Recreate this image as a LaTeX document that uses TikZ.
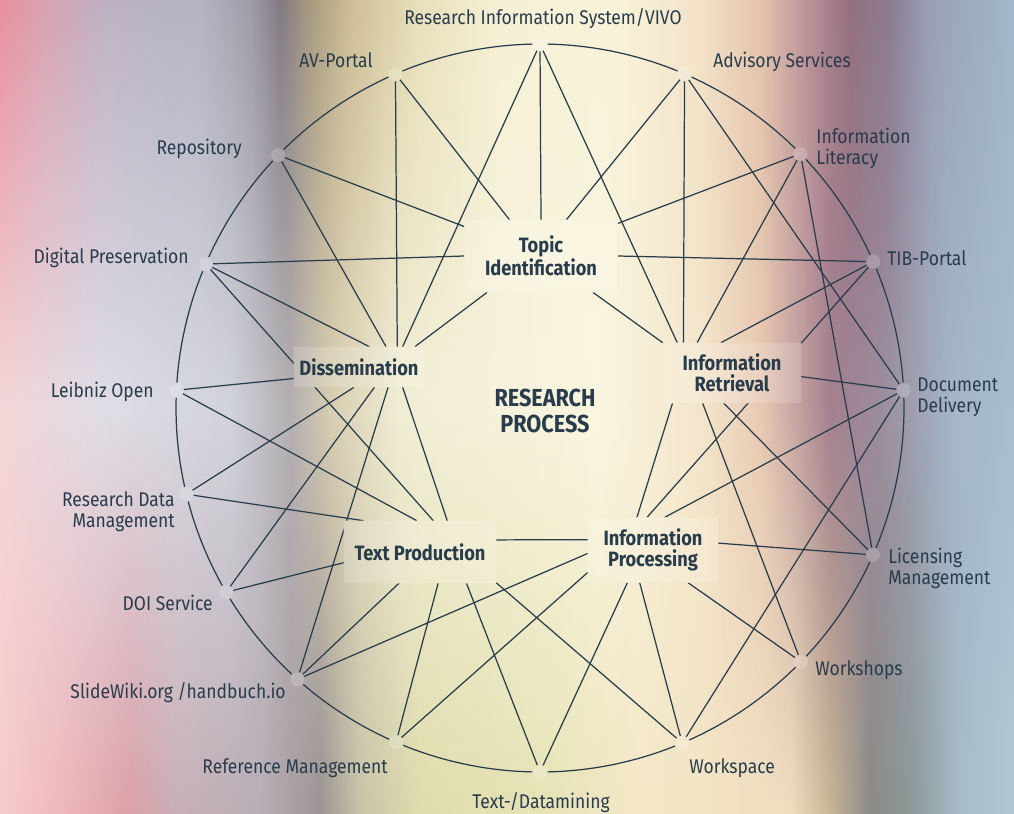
\documentclass[tikz,border=0pt]{standalone}
\usepackage{fontspec}
\setmainfont{Fira Sans}[FakeStretch=0.88]
\usetikzlibrary{fadings}

\definecolor{ink}{RGB}{40,60,76}
% background colours, top row
\definecolor{t0}{HTML}{E8909F}\definecolor{t1}{HTML}{D8A2B2}\definecolor{t2}{HTML}{BDB2C4}
\definecolor{t3}{HTML}{B4B4C2}\definecolor{t4}{HTML}{A09CA8}\definecolor{t5}{HTML}{827A84}
\definecolor{t6}{HTML}{A89A80}\definecolor{t7}{HTML}{CDBE96}\definecolor{t8}{HTML}{E8E0BA}
\definecolor{t9}{HTML}{F6F1D6}\definecolor{t10}{HTML}{F8F2D8}\definecolor{t11}{HTML}{F2E2C8}
\definecolor{t12}{HTML}{E4C4AC}\definecolor{t13}{HTML}{B89098}\definecolor{t14}{HTML}{94707E}
\definecolor{t15}{HTML}{8C7C90}\definecolor{t16}{HTML}{9AA0B4}\definecolor{t17}{HTML}{A2B8CC}
% middle row
\definecolor{m0}{HTML}{F4D6D8}\definecolor{m1}{HTML}{E8DAE0}\definecolor{m2}{HTML}{E0DEE6}
\definecolor{m3}{HTML}{D2D4DC}\definecolor{m4}{HTML}{B4B0B2}\definecolor{m5}{HTML}{D8CEB2}
\definecolor{m6}{HTML}{F2EED6}\definecolor{m7}{HTML}{FAF6E0}\definecolor{m8}{HTML}{F4E6CC}
\definecolor{m9}{HTML}{E8CAB4}\definecolor{m10}{HTML}{A48090}\definecolor{m11}{HTML}{9C8C9C}
\definecolor{m12}{HTML}{A4B6C8}\definecolor{m13}{HTML}{AABED0}
% bottom row
\definecolor{b0}{HTML}{F8CCCC}\definecolor{b1}{HTML}{F0B8BC}\definecolor{b2}{HTML}{DCA0A8}
\definecolor{b3}{HTML}{C8B0B8}\definecolor{b4}{HTML}{B8AEB6}\definecolor{b5}{HTML}{9C9494}
\definecolor{b6}{HTML}{C8C4A8}\definecolor{b7}{HTML}{DFDCAC}\definecolor{b8}{HTML}{E8E4B8}
\definecolor{b9}{HTML}{F4E8C8}\definecolor{b10}{HTML}{F0DEC0}\definecolor{b11}{HTML}{C8B696}
\definecolor{b12}{HTML}{8C8C88}\definecolor{b13}{HTML}{8C9898}\definecolor{b14}{HTML}{A8BCC8}
\definecolor{b15}{HTML}{B4C8D4}

\pgfdeclarehorizontalshading{bgtop}{100bp}{color(0bp)=(t0); color(25bp)=(t0);
  color(27.22bp)=(t1); color(30.42bp)=(t2); color(34.86bp)=(t3); color(37.33bp)=(t4);
  color(38.81bp)=(t5); color(40.29bp)=(t6); color(42.26bp)=(t7); color(45.71bp)=(t8);
  color(49.65bp)=(t9); color(55.57bp)=(t10); color(59.52bp)=(t11); color(62.48bp)=(t12);
  color(64.94bp)=(t13); color(66.91bp)=(t14); color(68.89bp)=(t15); color(70.86bp)=(t16);
  color(75bp)=(t17); color(100bp)=(t17)}
\pgfdeclarehorizontalshading{bgmid}{100bp}{color(0bp)=(m0); color(25bp)=(m0);
  color(27.47bp)=(m1); color(29.93bp)=(m2); color(36.34bp)=(m3); color(39.3bp)=(m4);
  color(41.27bp)=(m5); color(44.72bp)=(m6); color(54.59bp)=(m7); color(59.52bp)=(m8);
  color(62.48bp)=(m9); color(65.93bp)=(m10); color(68.39bp)=(m11); color(71.84bp)=(m12);
  color(75bp)=(m13); color(100bp)=(m13)}
\pgfdeclarehorizontalshading{bgbot}{100bp}{color(0bp)=(b0); color(25bp)=(b0);
  color(27.96bp)=(b1); color(31.41bp)=(b2); color(33.88bp)=(b3); color(37.82bp)=(b4);
  color(40.78bp)=(b5); color(42.75bp)=(b6); color(45.71bp)=(b7); color(52.61bp)=(b8);
  color(56.56bp)=(b9); color(63.96bp)=(b10); color(65.93bp)=(b11); color(67.9bp)=(b12);
  color(69.87bp)=(b13); color(72.34bp)=(b14); color(75bp)=(b15); color(100bp)=(b15)}

\tikzfading[name=fadetop, top color=transparent!0, bottom color=transparent!100]
\tikzfading[name=fadebot, top color=transparent!100, bottom color=transparent!0]

\begin{document}
\begin{tikzpicture}[x=0.02cm, y=-0.02cm,
	every node/.style={text=ink},
	svc/.style={circle, minimum size=0.28cm, inner sep=0pt, fill=white, fill opacity=.18, text opacity=1},
	lbl/.style={font=\fontsize{11.3}{11.9}\selectfont, inner sep=0pt},
	stage/.style={rectangle, fill=white, fill opacity=.17, text opacity=1, align=center, inner sep=0pt,
		font=\fontsize{11.8}{11.9}\selectfont\bfseries},
	link/.style={draw=ink, line width=0.7pt}]
	\useasboundingbox (0,0) rectangle (1014,814);
	
	%---------------- BACKGROUND ----------------
	\shade[shading=bgmid] (0,0) rectangle (1014,814);
	\shade[shading=bgtop, path fading=fadetop] (0,0) rectangle (1014,407);
	\shade[shading=bgbot, path fading=fadebot] (0,407) rectangle (1014,814);
	
	%---------------- SERVICES ON THE RING ----------------
	\begin{scope}[shift={(540,408)}]
		\node[svc] (vivo) at (-90:364) {};
		\node[svc] (adv)  at (-66.6:364) {};
		\node[svc] (lit)  at (-44.3:364) {};
		\node[svc] (tib)  at (-23.7:364) {};
		\node[svc] (dd)   at (-2.8:364) {};
		\node[svc] (lic)  at (23.8:364) {};
		\node[svc] (wsh)  at (44.2:364) {};
		\node[svc] (wsp)  at (67:364) {};
		\node[svc] (tdm)  at (90:364) {};
		\node[svc] (refm) at (113.3:364) {};
		\node[svc] (slw)  at (131.8:364) {};
		\node[svc] (doi)  at (149.6:364) {};
		\node[svc] (rdm)  at (166.3:364) {};
		\node[svc] (lbo)  at (182.8:364) {};
		\node[svc] (dp)   at (203.3:364) {};
		\node[svc] (repo) at (224:364) {};
		\node[svc] (avp)  at (246.6:364) {};
	\end{scope}
	
	% ring between the services
	\foreach \a/\b in {-90/-66.6,-66.6/-44.3,-44.3/-23.7,-23.7/-2.8,-2.8/23.8,23.8/44.2,
		44.2/67,67/90,90/113.3,113.3/131.8,131.8/149.6,149.6/166.3,166.3/182.8,
		182.8/203.3,203.3/224,224/246.6,246.6/270} {
		\draw[link] ([shift={(540,408)}]{\a+1.2}:364) arc[start angle=\a+1.2, end angle=\b-1.2, radius=364];
	}
	
	% labels of the services
	\node[lbl, anchor=base] (t-vivo) at (543,25) {Research Information System/VIVO};
	\node[lbl, anchor=base] (t-avp) at (336,68) {AV-Portal};
	\node[lbl, anchor=base] (t-adv) at (782,68) {Advisory Services};
	\node[lbl, anchor=west, align=left] (t-lit) at (816,148) {Information\\Literacy};
	\node[lbl, anchor=base east] (t-repo) at (242,155) {Repository};
	\node[lbl, anchor=base west] (t-tib) at (887,265) {TIB-Portal};
	\node[lbl, anchor=base east] (t-dp) at (189,263) {Digital Preservation};
	\node[lbl, anchor=west, align=left] (t-dd) at (917,397) {Document\\Delivery};
	\node[lbl, anchor=base east] (t-lbo) at (154,397) {Leibniz Open};
	\node[lbl, anchor=east, align=right] (t-rdm) at (175,512) {Research Data\\Management};
	\node[lbl, anchor=west, align=left] (t-lic) at (888,568) {Licensing\\Management};
	\node[lbl, anchor=base east] (t-doi) at (213,610) {DOI Service};
	\node[lbl, anchor=base west] (t-wsh) at (815,675) {Workshops};
	\node[lbl, anchor=base east] (t-slw) at (286,698) {SlideWiki.org /handbuch.io};
	\node[lbl, anchor=base west] (t-wsp) at (689,773) {Workspace};
	\node[lbl, anchor=base east] (t-refm) at (388,773) {Reference Management};
	\node[lbl, anchor=base] (t-tdm) at (541,808) {Text-/Datamining};
	
	%---------------- STAGES OF THE PROCESS ----------------
	\node[stage, minimum width=3.06cm, minimum height=1.44cm] (topic) at (541,256) {Topic\\Identification};
	\node[stage, minimum width=2.6cm, minimum height=0.8cm] (diss) at (359,367) {Dissemination};
	\node[stage, minimum width=2.76cm, minimum height=1.2cm] (retr) at (732,373) {Information\\Retrieval};
	\node[stage, minimum width=2.6cm, minimum height=1.3cm] (proc) at (653,550) {Information\\Processing};
	\node[stage, minimum width=3.04cm, minimum height=1.24cm] (prod) at (420,552) {Text Production};
	\node[align=center, font=\fontsize{14}{14.7}\selectfont\bfseries] (rp) at (545,411) {RESEARCH\\PROCESS};
	
	%---------------- CONNECTIONS (kept out of the stage boxes) ----------------
	\begin{scope}
		\clip (0,0) rectangle (1014,814)
			(topic.south west) rectangle (topic.north east)
			(diss.south west) rectangle (diss.north east)
			(retr.south west) rectangle (retr.north east)
			(proc.south west) rectangle (proc.north east)
			(prod.south west) rectangle (prod.north east);
		
		% topic identification
		\draw[link] (vivo) -- (topic.north);
		\draw[link] (avp) -- (topic.131);
		\draw[link] (adv) -- (topic.55);
		\draw[link] (repo) -- (topic.159);
		\draw[link] (dp) -- (topic.west);
		\draw[link] (lit) -- (topic.23);
		\draw[link] (tib) -- (topic.east);
		\draw[link] (topic.214) -- (diss.20);
		\draw[link] (topic.325) -- (retr.north west);
		
		% information retrieval
		\draw[link] (vivo) -- (retr.151);
		\draw[link] (adv) -- (retr.148);
		\draw[link] (lit) -- (retr.139);
		\draw[link] (tib) -- (retr.110);
		\draw[link] (dd) -- (retr.357);
		\draw[link] (retr.226) -- (wsh);
		\draw[link] (retr.255) -- (lic);
		\draw[link] (retr.207) -- (proc.116);
		
		% information processing
		\draw[link] (tib) -- (proc.100);
		\draw[link] (dd) -- (proc.70);
		\draw[link] (lic) -- (proc.6);
		\draw[link] (wsh) -- (proc.317);
		\draw[link] (wsp) -- (proc.248);
		\draw[link] (tdm) -- (proc.232);
		\draw[link] (slw) -- (proc.183);
		\draw[link] (refm) -- (proc.199);
		\draw[link] (prod.9) -- (proc.171);
		
		% text production
		\draw[link] (dp) -- (prod.67);
		\draw[link] (lbo) -- (prod.96);
		\draw[link] (rdm) -- (prod.151);
		\draw[link] (doi) -- (prod.188);
		\draw[link] (slw) -- (prod.236);
		\draw[link] (refm) -- (prod.300);
		\draw[link] (tdm) -- (prod.326);
		\draw[link] (wsp) -- (prod.338);
		\draw[link] (diss.335) -- (prod.49);
		
		% dissemination
		\draw[link] (vivo) -- (diss.25);
		\draw[link] (avp) -- (diss.28);
		\draw[link] (repo) -- (diss.37);
		\draw[link] (dp) -- (diss.63);
		\draw[link] (lbo) -- (diss.190);
		\draw[link] (rdm) -- (diss.256);
		\draw[link] (doi) -- (diss.307);
		\draw[link] (slw) -- (diss.325);
		
		% between services
		\draw[link] (adv) -- (dd);
		\draw[link] (lit) -- (lic);
		\draw[link] (dd) -- (wsp);
	\end{scope}
\end{tikzpicture}
\end{document}
